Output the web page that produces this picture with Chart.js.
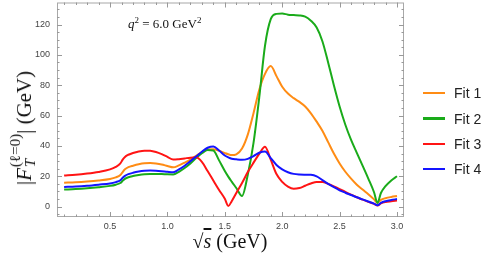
<!DOCTYPE html>
<html>
<head>
<meta charset="utf-8">
<script src="https://cdn.jsdelivr.net/npm/chart.js@4/dist/chart.umd.min.js"></script>
<style>
  html, body { margin: 0; padding: 0; background: #fff; }
  #wrap { position: relative; width: 490px; height: 266px; }
  #chart { position: absolute; left: 0; top: 0; }
  .serif { font-family: "Liberation Serif", "DejaVu Serif", serif; color: #111; white-space: nowrap; position: absolute; }
  #ytitle { left: 23px; top: 128px; font-size: 21px; transform: translate(-50%, -50%) rotate(-90deg); }
  .stack { display: inline-block; vertical-align: -0.3em; line-height: 1; font-size: 15px; margin-left: 1px; }
  .stack span { display: block; }
  #xtitle { left: 230px; top: 230px; font-size: 20px; transform: translateX(-50%); }
  .over { text-decoration: overline; }
  #note { left: 128px; top: 15px; font-size: 13px; }
  #legend { position: absolute; left: 423px; top: 80.6px; font-family: "Liberation Sans", Arial, sans-serif; font-size: 14px; color: #222; }
  .item { height: 25.3px; display: flex; align-items: center; }
  .swatch { width: 22px; height: 2.4px; margin-right: 9px; }
</style>
</head>
<body>
<div id="wrap">
  <canvas id="chart" width="490" height="266"></canvas>
  <div id="ytitle" class="serif">|<i>F</i><span class="stack"><span>(ℓ=0)</span><span><i>T</i></span></span>| (GeV)</div>
  <div id="xtitle" class="serif">√<span class="over"><i>s</i></span> (GeV)</div>
  <div id="note" class="serif"><i>q</i><sup style="font-size:9px">2</sup> = 6.0 GeV<sup style="font-size:9px">2</sup></div>
  <div id="legend"></div>
</div>
<script>
// sqrt(s) 取樣點 (GeV)
const sValues = [0.1, 0.2, 0.3, 0.4, 0.5, 0.55, 0.59, 0.61, 0.63, 0.66,
  0.7, 0.75, 0.8, 0.85, 0.9, 0.95, 1.0, 1.05, 1.1, 1.15,
  1.2, 1.25, 1.3, 1.35, 1.4, 1.45, 1.5, 1.53, 1.56, 1.6,
  1.65, 1.7, 1.75, 1.8, 1.85, 1.9, 1.95, 2.0, 2.05, 2.1,
  2.15, 2.2, 2.25, 2.3, 2.35, 2.4, 2.45, 2.5, 2.55, 2.6,
  2.65, 2.7, 2.75, 2.8, 2.83, 2.86, 2.9, 2.95, 3.0];

const fit1 = [15.8, 16.1, 16.6, 17.3, 18.3, 19.3, 20.8, 22.8, 24.6, 26.0,
  27.0, 28.0, 28.6, 28.7, 28.4, 27.8, 26.8, 25.9, 27.2, 29.0,
  31.0, 33.5, 36.0, 37.6, 37.8, 36.8, 35.3, 34.5, 34.0, 34.5,
  38.3, 47.5, 61.6, 77.0, 87.5, 92.6, 86.0, 79.0, 74.5, 71.5,
  69.0, 66.0, 61.5, 56.0, 50.0, 42.5, 35.0, 28.5, 23.0, 18.5,
  14.5, 11.3, 8.2, 4.8, 2.6, 4.5, 5.6, 6.4, 7.0];

const fit2 = [11.3, 11.6, 12.1, 12.8, 13.7, 14.5, 15.6, 17.0, 18.3, 19.4,
  20.2, 20.9, 21.4, 21.6, 21.6, 21.5, 21.3, 21.2, 23.0, 25.5,
  28.5, 32.0, 35.2, 37.3, 37.0, 30.5, 23.5, 19.8, 16.5, 12.3,
  7.0, 21.0, 42.0, 72.0, 106.0, 123.5, 127.0, 127.2, 126.5, 126.2,
  126.0, 125.2, 122.5, 118.0, 109.0, 95.0, 80.0, 66.0, 54.0, 44.0,
  35.5, 27.0, 18.5, 9.5, 2.5, 9.0, 13.5, 17.2, 20.0];

const fit3 = [20.5, 21.0, 21.8, 22.9, 24.6, 26.2, 28.5, 31.0, 32.8, 34.2,
  35.4, 36.4, 36.9, 36.8, 36.0, 34.6, 32.8, 31.0, 31.3, 31.8,
  32.3, 32.5, 29.5, 23.5, 17.2, 11.0, 5.2, 0.5, 3.6, 9.0,
  15.6, 22.8, 29.0, 34.8, 39.5, 31.0, 21.5, 16.3, 13.2, 11.8,
  12.3, 13.8, 15.3, 16.3, 16.3, 15.0, 13.4, 11.6, 9.7, 7.9,
  6.2, 4.6, 3.2, 1.8, 0.7, 2.2, 3.1, 3.6, 4.0];

const fit4 = [13.0, 13.3, 13.8, 14.5, 15.3, 16.2, 17.4, 19.0, 20.3, 21.4,
  22.3, 23.1, 23.6, 23.8, 23.7, 23.4, 23.0, 22.7, 24.5, 27.0,
  30.0, 33.0, 36.2, 38.8, 39.7, 37.0, 33.7, 32.5, 31.6, 31.2,
  30.9, 31.5, 33.3, 35.5, 36.3, 32.0, 27.5, 24.6, 22.7, 21.6,
  21.2, 21.1, 21.0, 20.0, 17.5, 15.0, 12.8, 10.8, 9.2, 7.7,
  6.2, 4.8, 3.4, 2.0, 0.9, 2.5, 3.6, 4.4, 5.0];

const seriesLabels = ['Fit 1', 'Fit 2', 'Fit 3', 'Fit 4'];
const seriesColors = ['#ff8c14', '#1aab1a', '#ff1414', '#1414ff'];
const xTickValues = [0.5, 1.0, 1.5, 2.0, 2.5, 3.0];
const yTickValues = [0, 20, 40, 60, 80, 100, 120];

const allSeries = [fit1, fit2, fit3, fit4];

// Mathematica 風格的外框與內向刻度
const frameTicks = {
  id: 'frameTicks',
  beforeDatasetsDraw(chart) {
    const { ctx, chartArea: a, scales: { x, y } } = chart;
    ctx.save();
    ctx.strokeStyle = '#a8a8a8';
    ctx.lineWidth = 1;
    ctx.strokeRect(a.left + 0.5, a.top + 0.5, a.right - a.left - 1, a.bottom - a.top - 1);
    ctx.strokeStyle = '#999';
    ctx.beginPath();
    for (let k = 0; k <= 31; k++) {
      const v = k / 10;
      if (v < x.min || v > x.max) continue;
      const px = Math.round(x.getPixelForValue(v)) + 0.5;
      const len = (k % 5 === 0) ? 5 : 2.5;
      ctx.moveTo(px, a.bottom); ctx.lineTo(px, a.bottom - len);
      ctx.moveTo(px, a.top); ctx.lineTo(px, a.top + len);
    }
    for (let k = -1; k <= 27; k++) {
      const v = k * 5;
      if (v < y.min || v > y.max) continue;
      const py = Math.round(y.getPixelForValue(v)) + 0.5;
      const len = (k % 4 === 0) ? 5 : 2.5;
      ctx.moveTo(a.left, py); ctx.lineTo(a.left + len, py);
      ctx.moveTo(a.right, py); ctx.lineTo(a.right - len, py);
    }
    ctx.stroke();
    ctx.restore();
  }
};

const datasets = allSeries.map((vals, i) => ({
  label: seriesLabels[i],
  data: sValues.map((s, j) => ({ x: s, y: vals[j] })),
  borderColor: seriesColors[i],
  borderWidth: 2,
  pointRadius: 0,
  cubicInterpolationMode: 'monotone',
  order: 4 - i
}));

new Chart(document.getElementById('chart'), {
  type: 'line',
  data: { datasets: datasets },
  options: {
    responsive: false,
    animation: false,
    layout: { padding: { left: 0, right: 86, top: 2.5, bottom: 0 } },
    plugins: { legend: { display: false }, tooltip: { enabled: false } },
    scales: {
      x: {
        type: 'linear',
        min: 0.038,
        max: 3.061,
        grid: { display: false, drawTicks: false },
        border: { display: false },
        ticks: {
          padding: 4,
          maxRotation: 0,
          color: '#444',
          font: { family: '"Liberation Sans", Arial, sans-serif', size: 9 },
          callback: v => v.toFixed(1)
        },
        afterBuildTicks: axis => { axis.ticks = xTickValues.map(v => ({ value: v })); },
        afterFit: s => { s.height = 49; s.paddingLeft = 0; s.paddingRight = 0; }
      },
      y: {
        min: -6.8,
        max: 134.5,
        grid: { display: false, drawTicks: false },
        border: { display: false },
        ticks: {
          padding: 7,
          color: '#444',
          font: { family: '"Liberation Sans", Arial, sans-serif', size: 9 }
        },
        afterBuildTicks: axis => { axis.ticks = yTickValues.map(v => ({ value: v })); },
        afterFit: s => { s.width = 57; s.paddingTop = 0; s.paddingBottom = 0; }
      }
    }
  },
  plugins: [frameTicks]
});

// 右側圖例
const legend = document.getElementById('legend');
seriesLabels.forEach((name, i) => {
  legend.innerHTML += `<div class="item"><div class="swatch" style="background:${seriesColors[i]}"></div>${name}</div>`;
});
</script>
</body>
</html>
